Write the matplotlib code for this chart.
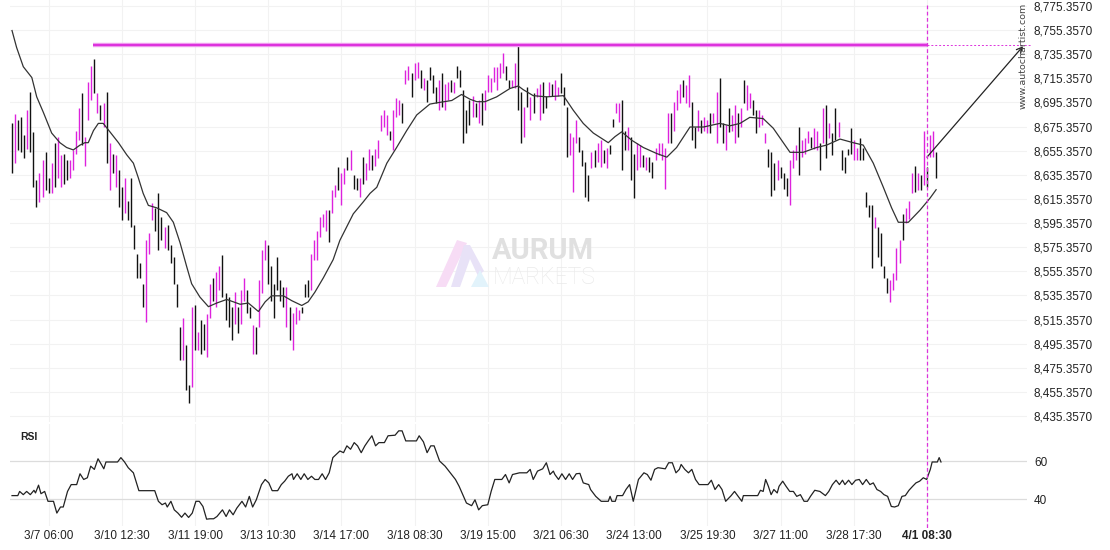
import matplotlib
matplotlib.use('Agg')
import matplotlib.pyplot as plt
import matplotlib.transforms as mtransforms
from matplotlib.patches import Polygon
from matplotlib.lines import Line2D

# bar data (one bar per index)
highs = [
    8678, 8686, 8681, 8683, 8668, 8689, 8704, 8671, 8631, 8637, 8648, 8654,
    8633, 8645, 8662, 8667, 8652, 8653, 8648, 8648, 8656, 8672, 8691, 8703,
    8667, 8712, 8726, 8731, 8703, 8693, 8695, 8704, 8662, 8653, 8652, 8639,
    8625, 8633, 8614, 8633, 8594, 8570, 8562, 8545, 8581, 8587, 8612, 8608,
    8620, 8600, 8592, 8594, 8577, 8567, 8545, 8509, 8517, 8494, 8461, 8526,
    8527, 8505, 8515, 8512, 8520, 8545, 8550, 8555, 8560, 8569, 8537, 8534,
    8526, 8538, 8526, 8540, 8550, 8540, 8526, 8511, 8509, 8548, 8573, 8581,
    8577, 8560, 8545, 8567, 8548, 8542, 8542, 8526, 8521, 8526, 8523, 8526,
    8545, 8548, 8570, 8581, 8589, 8600, 8603, 8606, 8606, 8623, 8627, 8642,
    8637, 8641, 8650, 8656, 8635, 8633, 8633, 8650, 8645, 8657, 8652, 8657,
    8664, 8685, 8689, 8685, 8672, 8689, 8699, 8697, 8695, 8722, 8726, 8720,
    8728, 8729, 8722, 8716, 8714, 8725, 8718, 8708, 8714, 8720, 8711, 8712,
    8714, 8712, 8726, 8722, 8706, 8689, 8697, 8701, 8695, 8697, 8703, 8706,
    8718, 8716, 8725, 8725, 8728, 8736, 8726, 8714, 8714, 8728, 8743, 8704,
    8692, 8708, 8700, 8703, 8707, 8711, 8712, 8701, 8712, 8711, 8714, 8708,
    8720, 8708, 8692, 8670, 8667, 8681, 8667, 8656, 8646, 8635, 8654, 8656,
    8662, 8664, 8656, 8658, 8660, 8682, 8695, 8695, 8697, 8672, 8675, 8667,
    8653, 8662, 8660, 8652, 8650, 8650, 8646, 8658, 8662, 8662, 8658, 8687,
    8687, 8696, 8706, 8711, 8714, 8710, 8718, 8696, 8675, 8689, 8681, 8683,
    8681, 8687, 8687, 8704, 8716, 8678, 8677, 8691, 8685, 8693, 8687, 8691,
    8714, 8710, 8703, 8697, 8689, 8689, 8685, 8670, 8657, 8654, 8645, 8648,
    8642, 8637, 8633, 8648, 8656, 8660, 8675, 8664, 8666, 8672, 8667, 8674,
    8672, 8662, 8691, 8693, 8678, 8670, 8691, 8679, 8656, 8650, 8657, 8674,
    8664, 8658, 8666, 8658, 8621, 8610, 8610, 8600, 8592, 8587, 8560, 8550,
    8548, 8554, 8575, 8581, 8603, 8608, 8614, 8637, 8643, 8637, 8635, 8672,
    8642, 8668, 8672, 8654,
]
lows = [
    8637, 8645, 8656, 8654, 8649, 8657, 8654, 8625, 8609, 8613, 8617, 8623,
    8620, 8620, 8625, 8633, 8625, 8628, 8631, 8633, 8639, 8653, 8664, 8660,
    8643, 8681, 8697, 8703, 8687, 8681, 8675, 8645, 8623, 8637, 8625, 8609,
    8598, 8604, 8598, 8592, 8574, 8550, 8550, 8526, 8513, 8570, 8598, 8589,
    8573, 8581, 8575, 8573, 8562, 8545, 8526, 8482, 8482, 8457, 8446, 8459,
    8490, 8490, 8487, 8490, 8484, 8517, 8531, 8526, 8540, 8534, 8515, 8509,
    8498, 8512, 8504, 8512, 8531, 8521, 8517, 8487, 8487, 8509, 8537, 8565,
    8545, 8531, 8517, 8540, 8531, 8526, 8509, 8498, 8490, 8512, 8515, 8521,
    8534, 8534, 8540, 8565, 8565, 8584, 8592, 8589, 8580, 8604, 8617, 8623,
    8610, 8628, 8639, 8639, 8624, 8623, 8617, 8628, 8631, 8639, 8639, 8643,
    8649, 8672, 8675, 8668, 8664, 8656, 8683, 8685, 8678, 8711, 8714, 8700,
    8714, 8716, 8707, 8706, 8696, 8714, 8703, 8695, 8689, 8692, 8689, 8697,
    8704, 8703, 8716, 8708, 8662, 8670, 8677, 8683, 8683, 8678, 8677, 8689,
    8704, 8704, 8712, 8706, 8716, 8720, 8714, 8707, 8708, 8707, 8689, 8662,
    8667, 8692, 8681, 8687, 8700, 8681, 8687, 8691, 8701, 8701, 8697, 8701,
    8703, 8693, 8650, 8652, 8621, 8662, 8654, 8643, 8617, 8614, 8641, 8642,
    8646, 8642, 8645, 8641, 8653, 8675, 8687, 8679, 8639, 8656, 8656, 8631,
    8616, 8639, 8642, 8642, 8639, 8638, 8633, 8648, 8652, 8648, 8624, 8662,
    8662, 8672, 8689, 8695, 8700, 8695, 8692, 8664, 8658, 8672, 8670, 8672,
    8670, 8670, 8678, 8662, 8675, 8662, 8656, 8671, 8672, 8662, 8667, 8675,
    8695, 8689, 8691, 8685, 8670, 8675, 8677, 8662, 8642, 8618, 8623, 8631,
    8633, 8624, 8618, 8610, 8641, 8648, 8635, 8650, 8653, 8662, 8658, 8657,
    8656, 8639, 8662, 8649, 8666, 8652, 8664, 8667, 8639, 8637, 8652, 8653,
    8648, 8648, 8648, 8648, 8609, 8600, 8558, 8591, 8567, 8560, 8550, 8537,
    8530, 8540, 8548, 8562, 8581, 8595, 8599, 8620, 8621, 8623, 8623, 8627,
    8625, 8650, 8650, 8633,
]
# 1 = up bar (magenta), 0 = down bar (black)
up = [
    0, 1, 0, 0, 0, 1, 0, 0, 0, 1, 1, 0,
    0, 1, 0, 1, 1, 0, 0, 1, 1, 1, 1, 0,
    1, 1, 1, 0, 1, 0, 1, 0, 1, 0, 1, 0,
    0, 1, 0, 0, 0, 0, 0, 0, 1, 1, 1, 0,
    0, 0, 1, 0, 0, 0, 0, 0, 1, 0, 0, 1,
    0, 1, 0, 0, 1, 1, 0, 1, 1, 0, 0, 0,
    0, 1, 0, 1, 1, 0, 0, 1, 0, 1, 1, 1,
    0, 0, 0, 0, 0, 0, 1, 0, 1, 1, 1, 0,
    0, 0, 1, 1, 1, 1, 1, 1, 0, 1, 1, 0,
    1, 1, 0, 1, 0, 0, 1, 0, 1, 1, 0, 1,
    1, 1, 1, 1, 0, 1, 1, 1, 0, 1, 1, 0,
    1, 1, 0, 1, 0, 0, 0, 0, 1, 0, 1, 1,
    0, 1, 0, 0, 0, 0, 0, 1, 0, 1, 0, 1,
    1, 1, 1, 1, 1, 1, 0, 0, 1, 1, 0, 0,
    1, 0, 1, 0, 1, 1, 0, 0, 1, 0, 1, 1,
    0, 0, 0, 1, 1, 1, 0, 0, 0, 0, 1, 0,
    1, 1, 0, 1, 0, 0, 1, 1, 0, 0, 1, 0,
    0, 1, 1, 0, 1, 0, 0, 1, 1, 1, 1, 1,
    0, 1, 1, 1, 0, 1, 1, 0, 0, 1, 0, 1,
    1, 0, 1, 1, 0, 0, 1, 0, 1, 1, 0, 1,
    0, 1, 1, 0, 0, 1, 1, 1, 0, 0, 0, 1,
    0, 0, 0, 1, 1, 1, 0, 1, 1, 1, 0, 1,
    1, 0, 1, 0, 1, 0, 0, 1, 0, 0, 0, 0,
    1, 1, 0, 0, 0, 0, 0, 1, 0, 0, 0, 0,
    1, 1, 1, 1, 0, 1, 1, 1, 0, 1, 0, 1,
    0, 1, 1, 0,
]

# moving average line, read at its turning points (bar index, value)
ma_idx = [
    0, 1.5, 3.7, 6.5, 8.1, 10.3, 13.0, 15.7, 17.9, 20.1, 22.3, 23.9, 25.0,
    26.7, 28.3, 29.9, 32.1, 34.9, 37.6, 39.8, 41.4, 43.0, 44.7, 47.4, 50.7,
    52.9, 55.1, 57.3, 58.9, 61.6, 64.4, 67.1, 70.4, 72.6, 74.8, 77.5, 80.8,
    83.0, 85.1, 89.0, 91.7, 95.0, 97.1, 99.3, 102.1, 105.3, 107.5, 111.9,
    115.2, 117.4, 119.6, 122.9, 126.1, 129.4, 132.7, 137.0, 139.2, 144.2,
    147.4, 150.2, 152.4, 155.1, 158.9, 163.3, 166.0, 167.6, 170.9, 175.3,
    180.8, 184.0, 187.3, 190.6, 195.5, 197.7, 199.9, 203.2, 207.0, 211.4,
    214.7, 217.9, 222.3, 226.7, 232.1, 235.4, 238.7, 241.9, 246.3, 249.6,
    252.9, 255.1, 259.4, 263.8, 267.1, 271.5, 275.8, 279.1, 282.4, 285.7,
    288.4, 290.6, 293.9, 297.7, 301.0, 303.0,
]
ma_vals = [
    8755, 8741, 8725, 8716, 8700, 8687, 8670, 8662, 8658, 8656, 8660, 8662, 8662,
    8672, 8678, 8678, 8671, 8662, 8652, 8645, 8633, 8620, 8610, 8608, 8604,
    8596, 8579, 8559, 8545, 8534, 8526, 8529, 8532, 8530, 8528, 8529, 8522,
    8530, 8535, 8535, 8531, 8527, 8530, 8538, 8550, 8565, 8581, 8603,
    8613, 8620, 8625, 8645, 8658, 8672, 8685, 8694, 8695, 8697,
    8702, 8698, 8696, 8696, 8700, 8707, 8709, 8706, 8701, 8700,
    8701, 8689, 8678, 8670, 8662, 8667, 8671, 8664, 8658, 8653,
    8650, 8658, 8675, 8675, 8678, 8676, 8678, 8683, 8682, 8674,
    8662, 8654, 8654, 8658, 8660, 8665, 8662, 8660, 8645, 8625,
    8608, 8596, 8596, 8606, 8616, 8623,
]

# RSI line, read at its turning points (bar index, value)
rsi_idx = [
    0, 1.9, 2.5, 3.7, 4.8, 6.0, 7.2, 7.7, 8.7, 9.5, 10.7, 11.8, 13.6, 14.7,
    15.9, 16.8, 18.2, 19.4, 21.2, 22.3, 23.5, 24.7, 25.8, 27.0, 28.2, 29.3,
    30.1, 30.8, 34.6, 35.7, 36.9, 38.1, 39.8, 41.6, 46.8, 48.0, 49.2, 50.3,
    50.9, 52.1, 53.2, 54.4, 55.6, 56.7, 57.9, 59.1, 60.3, 61.4, 62.6, 63.8,
    64.9, 66.1, 67.2, 69.0, 70.2, 71.3, 72.5, 73.7, 75.4, 76.6, 77.8, 78.9,
    80.1, 81.8, 83.0, 84.2, 85.3, 87.1, 88.3, 89.4, 90.6, 91.8, 92.3, 93.5,
    94.7, 95.8, 97.0, 98.2, 99.3, 100.5, 101.7, 102.8, 104.0, 105.2, 106.3,
    107.5, 108.7, 109.8, 111.0, 112.2, 113.3, 114.5, 115.7, 116.8, 118.0,
    119.2, 120.3, 122.1, 123.3, 125.6, 126.8, 127.9, 129.1, 132.6, 133.5,
    134.9, 136.1, 137.3, 138.4, 140.2, 142.0, 143.7, 145.4, 146.6, 149.0,
    150.7, 151.8, 153.0, 154.2, 156.0, 157.1, 158.3, 160.6, 161.8, 163.0,
    164.1, 166.4, 168.8, 169.9, 170.9, 172.3, 174.0, 175.2, 176.4, 177.5,
    178.0, 179.2, 180.3, 181.5, 182.7, 183.8, 185.0, 186.2, 187.3, 189.1,
    189.7, 191.4, 193.2, 195.5, 196.1, 196.7, 197.8, 198.4, 200.2, 201.3,
    202.5, 203.7, 205.4, 207.2, 208.3, 209.5, 210.7, 211.8, 214.2, 215.3,
    216.5, 217.7, 218.8, 219.4, 220.6, 221.8, 222.9, 224.1, 225.3, 228.2,
    229.3, 230.5, 231.7, 232.8, 234.0, 235.8, 236.9, 238.1, 239.3, 239.8,
    244.5, 245.4, 246.3, 247.1, 248.0, 248.9, 249.8, 250.9, 251.5, 252.7,
    253.8, 255.0, 256.2, 257.3, 258.5, 259.7, 260.8, 261.8, 263.2, 264.9,
    266.7, 267.8, 269.0, 270.2, 271.3, 272.3, 273.1, 274.3, 275.4, 276.6,
    277.8, 278.9, 280.1, 281.3, 282.4, 283.6, 284.8, 285.9, 287.1, 288.3,
    289.4, 290.6, 291.8, 292.9, 294.1, 295.3, 296.4, 297.6, 298.8, 299.9,
    301.1, 301.7, 303.4, 304.0, 304.6,
]
rsi_vals = [
    41.8, 41.8, 44, 42.3, 44, 42.3, 44.6, 43.2, 47.3, 42.8, 44, 38.8, 38.8, 32.6,
    35.8, 35.8, 44, 47.6, 47.6, 53.3, 50.3, 51.2, 57.3, 55.6, 61.2, 58.2,
    55.9, 59.5, 59.5, 61.8, 59.5, 56.5, 53.8, 44.4, 44.4, 38.8, 37, 37.9,
    35.8, 38.8, 34.3, 32.6, 30.4, 32.6, 30.3, 32.6, 38.8, 38.8, 36.1, 29.4,
    29.6, 29.6, 30.8, 34.3, 30.8, 34.3, 31.7, 35.2, 38.8, 35.8, 41.4, 35.8,
    39.6, 47.6, 50.3, 48.5, 44.4, 44.4, 47.6, 49.4, 52, 53.3, 50.3, 53.3,
    50.3, 53.3, 50.3, 52, 50.3, 50.3, 53.3, 50.3, 53.8, 61.8, 63.5,
    65.3, 64.4, 68, 66.2, 69.7, 68, 64.4, 68, 70.6, 73.3,
    68, 69.7, 69.7, 73.3, 73.6, 75.9, 75.9, 70.6, 70.6, 73.3,
    70.1, 64.4, 68, 68, 60, 57.3, 53.8, 50.3, 46.7, 37.9,
    36.5, 39.6, 34.3, 36.5, 37, 44, 50.3, 50.3, 52.9, 48.5,
    52.9, 53.8, 53.8, 55.6, 50.3, 54.7, 55.9, 59.1, 52.9, 54.7,
    52.9, 50.3, 53.3, 50.3, 53.3, 50.3, 53.3, 53.5, 48.5, 47.6,
    45, 41.4, 38.8, 38.8, 41.4, 38.8, 38.8, 41.8, 41.8, 45,
    47.6, 38.8, 50.3, 53.8, 52.9, 49.9, 55.6, 56.5, 55.9, 59.1,
    59.1, 53.8, 55.6, 58.2, 55.6, 53.8, 55.6, 50.3, 47.6, 47.6,
    49.9, 45, 47.6, 45, 38.8, 41.8, 44, 41.4, 38.8, 41.8,
    41.8, 44.6, 44, 50.3, 46.7, 42.3, 45, 43.2, 46.7, 49.4,
    46.7, 44, 44, 41.4, 42.3, 38.8, 38.8, 41.4, 44.6, 44,
    41.8, 44, 47.6, 49.9, 47.6, 49.9, 47.6, 49.9, 47.6, 49.9,
    50.3, 47.6, 50.3, 47.6, 48.5, 45, 44, 42.3, 41.4, 36.1,
    35.8, 36.5, 41.4, 41.8, 44.6, 46.7, 48.5, 49.4, 51.2, 50.3,
    55.6, 59.5, 59.5, 61.8, 59.5,
]

tick_idx = list(range(12, 301, 24))
tick_labels = ['3/7 06:00', '3/10 12:30', '3/11 19:00', '3/13 10:30', '3/14 17:00',
               '3/18 08:30', '3/19 15:00', '3/21 06:30', '3/24 13:00', '3/25 19:30',
               '3/27 11:00', '3/28 17:30', '4/1 08:30']
price_ticks = [8435.357 + 20 * k for k in range(18)]

level = 8743.0        # resistance level
level_start = 26.5
signal_idx = 300      # signal bar
arrow_from = (300, 8650)
arrow_to = (331.5, 8742)

MAG = '#dd22dd'
DARK = '#111111'
FONT = 'Liberation Sans'

W, H = 1110, 550
fig = plt.figure(figsize=(W / 100, H / 100), dpi=100)

def fx(x):
    return x / W

def fy(y):
    return 1 - y / H

ax = fig.add_axes([fx(10), fy(422), (1027 - 10) / W, 422 / H])
rax = fig.add_axes([fx(10), fy(526), (1027 - 10) / W, (526 - 424) / H])

for a in (ax, rax):
    for s in a.spines.values():
        s.set_visible(False)
    a.set_xlim(-0.66, 332.8)
    a.set_xticks(tick_idx)
    a.grid(True, axis='x', color='#f2f2f2', lw=0.8)
    a.yaxis.tick_right()
    a.tick_params(length=0, labelsize=8.5, colors='#222222', pad=5)
    a.set_axisbelow(True)

# price panel
ax.set_ylim(8430.36, 8780.33)
ax.set_yticks(price_ticks)
ax.set_yticklabels([f'{v:,.4f}' for v in price_ticks], fontfamily=FONT)
ax.grid(True, axis='y', color='#f2f2f2', lw=0.8)
ax.set_xticklabels([])

idx = list(range(len(highs)))
cols = [MAG if u else DARK for u in up]
ax.vlines(idx, lows, highs, colors=cols, linewidth=1.0)
ax.plot(ma_idx, ma_vals, color='#333333', lw=0.9)

ax.plot([level_start, signal_idx], [level, level], color='#f2a6f2', lw=3.2, solid_capstyle='butt')
ax.plot([level_start, signal_idx], [level, level], color='#dd33dd', lw=1.6, solid_capstyle='butt')
ax.plot([signal_idx, 334], [level, level], color='#dd33dd', lw=0.7, ls=(0, (2, 2)), clip_on=False)

ax.annotate('', xy=arrow_to, xytext=arrow_from,
            arrowprops=dict(arrowstyle='->', color='#222222', lw=0.9,
                            shrinkA=0, shrinkB=0, mutation_scale=10))

# signal time marker through both panels
tr = mtransforms.blended_transform_factory(ax.transData, fig.transFigure)
fig.add_artist(Line2D([signal_idx, signal_idx], [fy(5), fy(530)], transform=tr,
                      color='#dd33dd', lw=0.9, ls=(0, (3, 2))))

# RSI panel
rax.set_ylim(25.8, 79.5)
rax.set_yticks([40, 60])
rax.set_yticklabels(['40', '60'], fontfamily=FONT)
rax.grid(True, axis='y', color='#dcdcdc', lw=0.9)
rax.plot(rsi_idx, rsi_vals, color='#222222', lw=0.9)
rax.set_xticklabels(tick_labels, fontfamily=FONT)
for lab in rax.get_xticklabels():
    if lab.get_text() == '4/1 08:30':
        lab.set_fontweight('bold')
rax.tick_params(axis='x', pad=3)

fig.text(fx(20), fy(437), 'RSI', fontsize=7.5, fontweight='bold', fontfamily=FONT,
         color='#222222', va='center', ha='left')

fig.text(fx(1023), fy(56), 'www.autochartist.com', rotation=90, fontsize=6.8,
         fontfamily='DejaVu Sans', color='#444444', ha='center', va='center')

# watermark
fig.text(fx(492), fy(251), 'AURUM', fontsize=21, fontweight='bold', fontfamily='Roboto',
         color='#e0e0e0', ha='left', va='center')
fig.text(fx(493), fy(277), 'MARKETS', fontsize=16.5, fontweight='light', fontfamily='Roboto',
         color='#eaeaea', ha='left', va='center')
logo = [
    ([(436, 287), (446, 287), (467, 243), (457, 240)], '#f7dcf5'),
    ([(451, 287), (460, 287), (470, 259), (478, 276), (484, 271), (470, 245), (464, 245)], '#e8e2f7'),
    ([(471, 287), (489, 287), (480, 270)], '#e2f3fb'),
]
for pts, c in logo:
    fig.add_artist(Polygon([(fx(x), fy(y)) for x, y in pts], closed=True,
                           transform=fig.transFigure, facecolor=c, edgecolor='none'))

fig.savefig('out.png', dpi=100)
